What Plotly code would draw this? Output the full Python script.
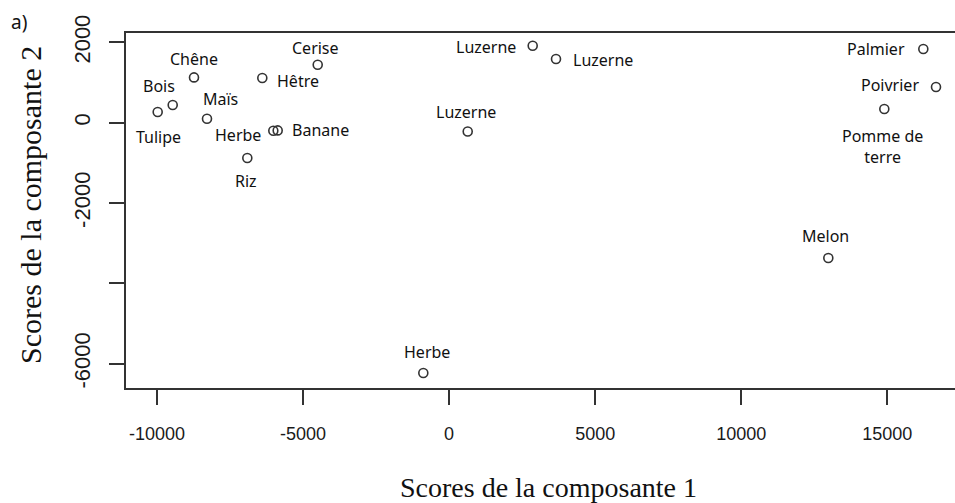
import plotly.graph_objects as go

# ---- data ----
names = ["Tulipe", "Bois", "Chêne", "Maïs", "Hêtre", "Cerise", "Herbe", "Banane", "Riz",
         "Luzerne", "Luzerne", "Luzerne", "Palmier", "Poivrier", "Pomme de<br>terre",
         "Melon", "Herbe"]
comp1 = [-9976, -9462, -8733, -8288, -6395, -4498, -6018, -5868, -6908,
         637, 2862, 3660, 16234, 16669, 14899, 12982, -883]
comp2 = [266, 441, 1128, 100, 1113, 1444, -199, -192, -879,
         -217, 1917, 1586, 1835, 889, 341, -3369, -6233]

x_tick_vals = [-10000, -5000, 0, 5000, 10000, 15000]
x_tick_text = ["-10000", "-5000", "0", "5000", "10000", "15000"]
y_tick_vals = [-6000, -4000, -2000, 0, 2000]
y_tick_text = ["-6000", "", "-2000", "0", "2000"]

# label placement offsets in pixels (style only)
label_dx = [1, -14, 0, 13, 36, -2, -35, 43, -1, -2, -47, 47, -47, -46, -2, -3, 4]
label_dy = [-25, 19, 18, 20, -3, 17, -4, 0, -23, 19, -1, -1, 0, 2, -37, 22, 21]

axis_col = "#333333"
ink = "#1a1a1a"

fig = go.Figure()
fig.add_trace(go.Scatter(
    x=comp1, y=comp2, mode="markers",
    marker=dict(symbol="circle-open", size=9, color=axis_col, line=dict(width=1.6, color=axis_col)),
    hoverinfo="skip", showlegend=False,
))

annotations = []
for n, xv, yv, dx, dy in zip(names, comp1, comp2, label_dx, label_dy):
    annotations.append(dict(
        x=xv, y=yv, xref="x", yref="y", text=n, showarrow=False,
        xshift=dx, yshift=dy, xanchor="center", yanchor="middle",
        font=dict(family="Noto Sans, Open Sans, sans-serif", size=16, color="#111111"),
    ))

annotations.append(dict(
    x=548, y=503 - 487, xref="paper", yref="paper", text="Scores de la composante 1",
    showarrow=False, xanchor="center", yanchor="middle",
    font=dict(family="Liberation Serif, Times New Roman, serif", size=28, color="#111111"),
))
annotations.append(dict(
    x=30, y=503 - 205, xref="paper", yref="paper", text="Scores de la composante 2",
    showarrow=False, textangle=-90, xanchor="center", yanchor="middle",
    font=dict(family="Liberation Serif, Times New Roman, serif", size=30, color="#111111"),
))
annotations.append(dict(
    x=19, y=503 - 22, xref="paper", yref="paper", text="a)",
    showarrow=False, xanchor="center", yanchor="middle",
    font=dict(family="Noto Sans, Open Sans, sans-serif", size=19, color="#111111"),
))

W, H = 955, 503
L, R, T, B = 126, 0, 33, 115

# convert paper-pixel annotations to paper fractions
for a in annotations:
    if a["xref"] == "paper":
        a["x"] = (a["x"] - L) / (W - L - R)
        a["y"] = (a["y"] - B) / (H - T - B)

fig.update_layout(
    width=W, height=H,
    margin=dict(l=L, r=R, t=T, b=B, pad=0),
    paper_bgcolor="white", plot_bgcolor="white",
    annotations=annotations,
    xaxis=dict(
        range=[-11061, 17319], tickvals=x_tick_vals, ticktext=x_tick_text,
        showgrid=False, zeroline=False, showline=True, mirror=True,
        linecolor=axis_col, linewidth=1.5, ticks="outside", ticklen=15, tickwidth=1.5,
        tickcolor=axis_col, ticklabelstandoff=14,
        tickfont=dict(family="Liberation Sans Narrow, Liberation Sans, Arial, sans-serif", size=18, color=ink),
    ),
    yaxis=dict(
        range=[-6606, 2234], tickvals=y_tick_vals, ticktext=y_tick_text,
        showgrid=False, zeroline=False, showline=True, mirror=False,
        linecolor=axis_col, linewidth=1.5, ticks="outside", ticklen=15, tickwidth=1.5,
        tickcolor=axis_col, tickangle=-90, ticklabelstandoff=10,
        tickfont=dict(family="Liberation Sans, Arial, sans-serif", size=22, color=ink),
    ),
)

fig.write_html("out.html", config={"displayModeBar": False},
               post_script="document.body.style.margin='0';document.body.style.padding='0';")
